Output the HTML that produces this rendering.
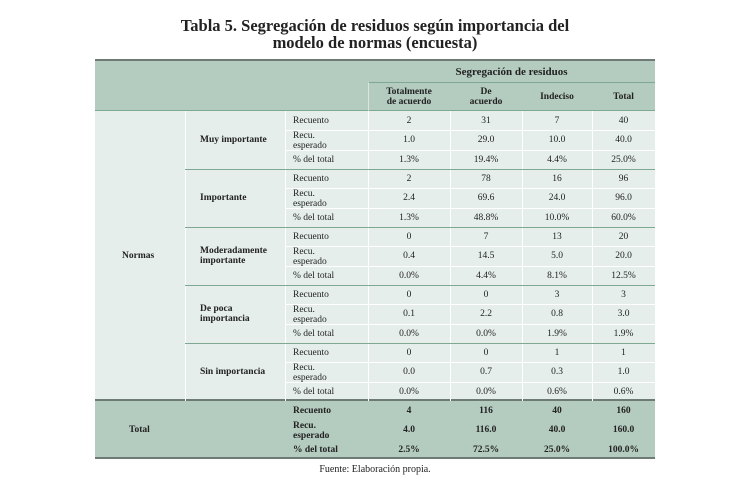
<!DOCTYPE html>
<html><head><meta charset="utf-8"><style>
body{margin:0;width:750px;height:492px;background:#fff;position:relative;overflow:hidden;font-family:"Liberation Serif",serif;color:#222}
.a{position:absolute}
.t{position:absolute;font-size:9.5px;line-height:10px;white-space:nowrap}
.c{text-align:center}
.b{font-weight:bold}
.h{position:absolute;height:1px}
.v{position:absolute;width:1px}
</style></head><body>
<div class="a b c" style="left:0;width:750px;top:17px;font-size:16.5px;line-height:17px">Tabla 5. Segregación de residuos según importancia del<br>modelo de normas (encuesta)</div>

<div class="a" style="left:95px;top:60px;width:560px;height:51px;background:#b4cbbf"></div>
<div class="a" style="left:95px;top:111px;width:560px;height:290px;background:#e5eeea"></div>
<div class="a" style="left:95px;top:401px;width:560px;height:57px;background:#b4cbbf"></div>
<div class="h" style="left:95px;top:59px;width:560px;height:2px;background:#6e7a74"></div>
<div class="h" style="left:95px;top:399px;width:560px;height:2px;background:#6e7a74"></div>
<div class="h" style="left:95px;top:457px;width:560px;height:2px;background:#6e7a74"></div>
<div class="h" style="left:368px;top:82px;width:287px;background:#7fa892"></div>
<div class="h" style="left:95px;top:110px;width:560px;background:#7fa892"></div>

<div class="t b c" style="left:368px;width:287px;top:66px;font-size:11px;line-height:12px">Segregación de residuos</div>
<div class="t b c" style="left:368px;width:82px;top:87px">Totalmente<br>de acuerdo</div>
<div class="t b c" style="left:450px;width:72px;top:87px">De<br>acuerdo</div>
<div class="t b c" style="left:522px;width:70px;top:92px">Indeciso</div>
<div class="t b c" style="left:592px;width:63px;top:92px">Total</div>

<!-- vertical lines body -->
<div class="v" style="left:185px;top:111px;height:290px;background:#fff"></div>
<div class="v" style="left:285px;top:111px;height:290px;background:#fff"></div>
<div class="v" style="left:368px;top:82px;height:29px;background:#fff;opacity:.5"></div>
<div class="v" style="left:368px;top:111px;height:290px;background:#fff"></div>
<div class="v" style="left:450px;top:111px;height:290px;background:#fff"></div>
<div class="v" style="left:522px;top:111px;height:290px;background:#fff"></div>
<div class="v" style="left:592px;top:111px;height:290px;background:#fff"></div>

<!-- group lines -->
<div class="h" style="left:185px;top:169px;width:470px;background:#7fa892"></div>
<div class="h" style="left:185px;top:227px;width:470px;background:#7fa892"></div>
<div class="h" style="left:185px;top:285px;width:470px;background:#7fa892"></div>
<div class="h" style="left:185px;top:343px;width:470px;background:#7fa892"></div>
<!-- inner lines -->
<div class="h" style="left:285px;top:130px;width:370px;background:#fff"></div><div class="h" style="left:285px;top:150px;width:370px;background:#fff"></div>
<div class="h" style="left:285px;top:188px;width:370px;background:#fff"></div><div class="h" style="left:285px;top:208px;width:370px;background:#fff"></div>
<div class="h" style="left:285px;top:246px;width:370px;background:#fff"></div><div class="h" style="left:285px;top:266px;width:370px;background:#fff"></div>
<div class="h" style="left:285px;top:304px;width:370px;background:#fff"></div><div class="h" style="left:285px;top:324px;width:370px;background:#fff"></div>
<div class="h" style="left:285px;top:362px;width:370px;background:#fff"></div><div class="h" style="left:285px;top:382px;width:370px;background:#fff"></div>

<div class="t b" style="left:122px;top:251px">Normas</div>
<div class="t b" style="left:200px;top:135px">Muy importante</div>
<div class="t b" style="left:200px;top:193px">Importante</div>
<div class="t b" style="left:200px;top:246px">Moderadamente<br>importante</div>
<div class="t b" style="left:200px;top:304px">De poca<br>importancia</div>
<div class="t b" style="left:200px;top:367px">Sin importancia</div>

<!-- group 1 -->
<div class="t" style="left:293px;top:116px">Recuento</div><div class="t" style="left:293px;top:131px">Recu.<br>esperado</div><div class="t" style="left:293px;top:155px">% del total</div>
<div class="t c" style="left:368px;width:82px;top:116px">2</div><div class="t c" style="left:450px;width:72px;top:116px">31</div><div class="t c" style="left:522px;width:70px;top:116px">7</div><div class="t c" style="left:592px;width:63px;top:116px">40</div>
<div class="t c" style="left:368px;width:82px;top:135px">1.0</div><div class="t c" style="left:450px;width:72px;top:135px">29.0</div><div class="t c" style="left:522px;width:70px;top:135px">10.0</div><div class="t c" style="left:592px;width:63px;top:135px">40.0</div>
<div class="t c" style="left:368px;width:82px;top:155px">1.3%</div><div class="t c" style="left:450px;width:72px;top:155px">19.4%</div><div class="t c" style="left:522px;width:70px;top:155px">4.4%</div><div class="t c" style="left:592px;width:63px;top:155px">25.0%</div>
<!-- group 2 -->
<div class="t" style="left:293px;top:174px">Recuento</div><div class="t" style="left:293px;top:189px">Recu.<br>esperado</div><div class="t" style="left:293px;top:213px">% del total</div>
<div class="t c" style="left:368px;width:82px;top:174px">2</div><div class="t c" style="left:450px;width:72px;top:174px">78</div><div class="t c" style="left:522px;width:70px;top:174px">16</div><div class="t c" style="left:592px;width:63px;top:174px">96</div>
<div class="t c" style="left:368px;width:82px;top:193px">2.4</div><div class="t c" style="left:450px;width:72px;top:193px">69.6</div><div class="t c" style="left:522px;width:70px;top:193px">24.0</div><div class="t c" style="left:592px;width:63px;top:193px">96.0</div>
<div class="t c" style="left:368px;width:82px;top:213px">1.3%</div><div class="t c" style="left:450px;width:72px;top:213px">48.8%</div><div class="t c" style="left:522px;width:70px;top:213px">10.0%</div><div class="t c" style="left:592px;width:63px;top:213px">60.0%</div>
<!-- group 3 -->
<div class="t" style="left:293px;top:232px">Recuento</div><div class="t" style="left:293px;top:247px">Recu.<br>esperado</div><div class="t" style="left:293px;top:271px">% del total</div>
<div class="t c" style="left:368px;width:82px;top:232px">0</div><div class="t c" style="left:450px;width:72px;top:232px">7</div><div class="t c" style="left:522px;width:70px;top:232px">13</div><div class="t c" style="left:592px;width:63px;top:232px">20</div>
<div class="t c" style="left:368px;width:82px;top:251px">0.4</div><div class="t c" style="left:450px;width:72px;top:251px">14.5</div><div class="t c" style="left:522px;width:70px;top:251px">5.0</div><div class="t c" style="left:592px;width:63px;top:251px">20.0</div>
<div class="t c" style="left:368px;width:82px;top:271px">0.0%</div><div class="t c" style="left:450px;width:72px;top:271px">4.4%</div><div class="t c" style="left:522px;width:70px;top:271px">8.1%</div><div class="t c" style="left:592px;width:63px;top:271px">12.5%</div>
<!-- group 4 -->
<div class="t" style="left:293px;top:290px">Recuento</div><div class="t" style="left:293px;top:305px">Recu.<br>esperado</div><div class="t" style="left:293px;top:329px">% del total</div>
<div class="t c" style="left:368px;width:82px;top:290px">0</div><div class="t c" style="left:450px;width:72px;top:290px">0</div><div class="t c" style="left:522px;width:70px;top:290px">3</div><div class="t c" style="left:592px;width:63px;top:290px">3</div>
<div class="t c" style="left:368px;width:82px;top:309px">0.1</div><div class="t c" style="left:450px;width:72px;top:309px">2.2</div><div class="t c" style="left:522px;width:70px;top:309px">0.8</div><div class="t c" style="left:592px;width:63px;top:309px">3.0</div>
<div class="t c" style="left:368px;width:82px;top:329px">0.0%</div><div class="t c" style="left:450px;width:72px;top:329px">0.0%</div><div class="t c" style="left:522px;width:70px;top:329px">1.9%</div><div class="t c" style="left:592px;width:63px;top:329px">1.9%</div>
<!-- group 5 -->
<div class="t" style="left:293px;top:348px">Recuento</div><div class="t" style="left:293px;top:363px">Recu.<br>esperado</div><div class="t" style="left:293px;top:387px">% del total</div>
<div class="t c" style="left:368px;width:82px;top:348px">0</div><div class="t c" style="left:450px;width:72px;top:348px">0</div><div class="t c" style="left:522px;width:70px;top:348px">1</div><div class="t c" style="left:592px;width:63px;top:348px">1</div>
<div class="t c" style="left:368px;width:82px;top:367px">0.0</div><div class="t c" style="left:450px;width:72px;top:367px">0.7</div><div class="t c" style="left:522px;width:70px;top:367px">0.3</div><div class="t c" style="left:592px;width:63px;top:367px">1.0</div>
<div class="t c" style="left:368px;width:82px;top:387px">0.0%</div><div class="t c" style="left:450px;width:72px;top:387px">0.0%</div><div class="t c" style="left:522px;width:70px;top:387px">0.6%</div><div class="t c" style="left:592px;width:63px;top:387px">0.6%</div>

<!-- total -->
<div class="t b" style="left:129px;top:425px">Total</div>
<div class="t b" style="left:293px;top:406px">Recuento</div><div class="t b" style="left:293px;top:421px">Recu.<br>esperado</div><div class="t b" style="left:293px;top:445px">% del total</div>
<div class="t b c" style="left:368px;width:82px;top:406px">4</div><div class="t b c" style="left:450px;width:72px;top:406px">116</div><div class="t b c" style="left:522px;width:70px;top:406px">40</div><div class="t b c" style="left:592px;width:63px;top:406px">160</div>
<div class="t b c" style="left:368px;width:82px;top:425px">4.0</div><div class="t b c" style="left:450px;width:72px;top:425px">116.0</div><div class="t b c" style="left:522px;width:70px;top:425px">40.0</div><div class="t b c" style="left:592px;width:63px;top:425px">160.0</div>
<div class="t b c" style="left:368px;width:82px;top:445px">2.5%</div><div class="t b c" style="left:450px;width:72px;top:445px">72.5%</div><div class="t b c" style="left:522px;width:70px;top:445px">25.0%</div><div class="t b c" style="left:592px;width:63px;top:445px">100.0%</div>

<div class="t c" style="left:0;width:750px;top:465px;font-size:10px">Fuente: Elaboración propia.</div>
</body></html>
